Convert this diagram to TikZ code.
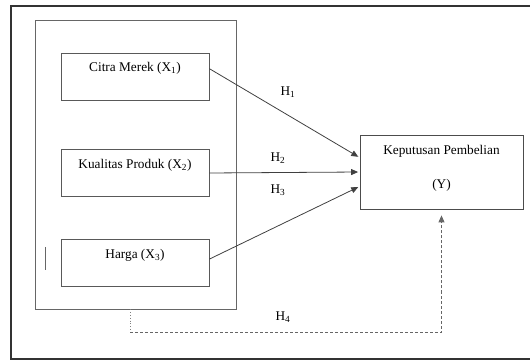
\documentclass[tikz,border=0pt]{standalone}
\usepackage{fontspec}
\setmainfont{Liberation Serif}
\usetikzlibrary{arrows.meta,positioning}

\begin{document}
\begin{tikzpicture}[x=1pt,y=-1pt,
	varbox/.style={draw=black!65, line width=0.8pt, minimum width=148pt, minimum height=47pt,
		inner sep=2.25pt, text height=16.5pt, text depth=26pt, font=\fontsize{13.3}{16}\selectfont},
	ybox/.style={draw=black!70, line width=0.8pt, minimum width=163pt, minimum height=74pt,
		align=center, font=\fontsize{13.3}{16}\selectfont},
	hyparrow/.style={draw=black!75, line width=0.8pt, shorten >=1.5pt, -{Triangle[length=7pt,width=6pt]}},
	hyplabel/.style={inner sep=0pt, font=\fontsize{13.3}{16}\selectfont}]
	\useasboundingbox (0,0) rectangle (530,363);

	% frame
	\draw[black!80, line width=1.8pt] (535,6) -- (11,6) -- (11,359) -- (535,359);
	\node[draw=black!60, line width=0.8pt, minimum width=201pt, minimum height=289pt] (panel) at (135.5,164.5) {};
	\draw[black!60, line width=0.8pt] (45,247) -- (45,270);

	% variables
	\foreach \nm/\yy/\txt in {citra/76.5/{Citra Merek (X\textsubscript{1})},
		kualitas/173/{Kualitas Produk (X\textsubscript{2})},
		harga/263/{Harga (X\textsubscript{3})}} {
		\node[varbox] (\nm) at (135,\yy) {\txt};
	}
	\node[ybox] (y) at (441.5,172) {Keputusan Pembelian\\[18pt](Y)\\[-6pt]\mbox{}};

	% hypotheses
	\draw[hyparrow] (citra.6.5) -- (y.170);
	\draw[hyparrow] (kualitas.east) -- (y.west);
	\draw[hyparrow] (harga.3) -- (y.190);

	\node[hyplabel] (h1) at (288,92) {H\textsubscript{1}};
	\node[hyplabel] (h2) at (278,158) {H\textsubscript{2}};
	\node[hyplabel] (h3) at (278,190) {H\textsubscript{3}};
	\node[hyplabel] (h4) at (283,317) {H\textsubscript{4}};

	\coordinate (h4turn) at (130,332);
	\draw[black!50, line width=0.8pt, dotted] (panel.south -| h4turn) -- (h4turn);
	\draw[hyparrow, black!60, dash pattern=on 3pt off 2pt, shorten >=6pt] (h4turn) -- (h4turn -| y.south) -- (y.south);
\end{tikzpicture}
\end{document}
